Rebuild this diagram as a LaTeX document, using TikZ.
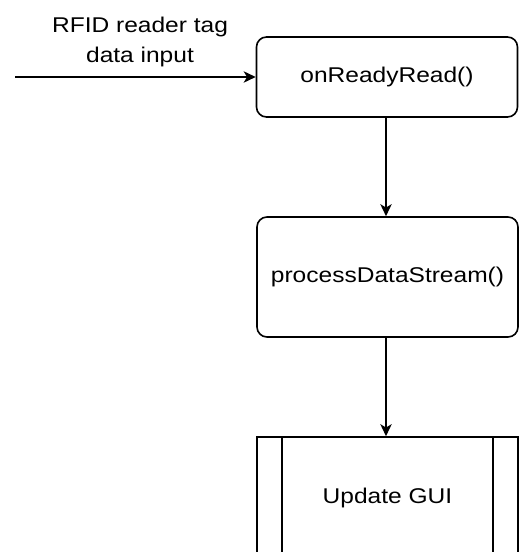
\documentclass[tikz,border=0pt]{standalone}
\usepackage{fontspec}
\setmainfont{Liberation Sans}
\usetikzlibrary{arrows.meta}
\newcommand\hs[1]{\scalebox{1.15}[1]{#1}}
\tikzset{
  px/.style={x=0.75pt,y=-0.75pt},
  proc/.style={draw, line width=1.2pt, rounded corners=7.5pt, minimum width=195.75pt, inner sep=0pt, font=\fontsize{16}{22.5}\selectfont},
  sub/.style={draw, line width=1.2pt, minimum width=195.75pt, minimum height=91.5pt, inner sep=0pt, font=\fontsize{16}{22.5}\selectfont},
  flow/.style={line width=1.2pt, -{Stealth[length=9pt,width=8.5pt,inset=2.5pt]}},
  lbl/.style={align=center, inner sep=0pt, font=\fontsize{16}{22.5}\selectfont}
}
\begin{document}
\begin{tikzpicture}[px]
\useasboundingbox (0,0) rectangle (519,552);
\clip (0,0) rectangle (519,552);
\fill[white] (0,0) rectangle (519,552);
\node[proc, minimum height=60pt] (read) at (387,77) {\hs{onReadyRead()}};
\node[proc, minimum height=90pt] (proc) at (387.5,277) {\hs{processDataStream()}};
\node[sub] (gui) at (387.5,498) {\hs{Update GUI}};
\draw[line width=1.2pt] ([xshift=19.5pt]gui.north west) -- ([xshift=19.5pt]gui.south west);
\draw[line width=1.2pt] ([xshift=-19.5pt]gui.north east) -- ([xshift=-19.5pt]gui.south east);
\coordinate (src) at (15,77);
\node[lbl] (inlbl) at (140,42) {\hs{RFID reader tag}\\\hs{data input}};
\draw[flow] (src) -- (read.west);
\draw[flow] (read.south -| 386,0) -- (proc.north -| 386,0);
\draw[flow] (proc.south -| 386,0) -- (gui.north -| 386,0);
\end{tikzpicture}
\end{document}
